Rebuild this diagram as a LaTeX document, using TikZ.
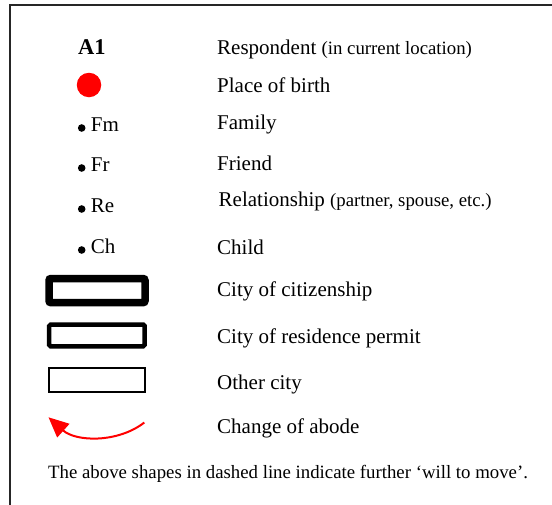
\documentclass[tikz,border=0pt]{standalone}
\usepackage{fontspec}
\setmainfont{Liberation Serif}
\usetikzlibrary{arrows.meta}
\newcommand\mainsz{\fontsize{21}{25}\selectfont}
\newcommand\smallsz{\fontsize{18.8}{22}\selectfont}
\begin{document}
\begin{tikzpicture}[x=1pt,y=-1pt,
  lbl/.style={anchor=base west, inner sep=0pt, font=\mainsz},
  dot/.style={circle, fill=black, inner sep=0pt, minimum size=7.6pt},
  citybox/.style={draw=black, rectangle, inner sep=0pt, minimum width=95.5pt},
  move/.style={draw=red, line width=2pt, -{Triangle[length=20pt 0 0,width=18pt 0 0]}}]
\useasboundingbox (0,0) rectangle (552,504);
% frame
\draw[line width=1.6pt, black!85] (10,620) -- (10,5) -- (620,5);
% respondent
\node[lbl, font=\fontsize{22.5}{26}\selectfont\bfseries] (a1) at (78,54) {A1};
\node[lbl] (t1) at (217,54) {Respondent {\smallsz(in current location)}};
% place of birth
\node[circle, fill=red, inner sep=0pt, minimum size=24.5pt] (pob) at (89,85) {};
\node[lbl] (t2) at (217,92) {Place of birth};
% people
\node[dot] (d1) at (81.7,128) {};
\node[lbl] (fm) at (90.7,131) {Fm};
\node[lbl] (t3) at (217,129) {Family};
\node[dot] (d2) at (81.7,168) {};
\node[lbl] (fr) at (90.7,171) {Fr};
\node[lbl] (t4) at (217,170.5) {Friend};
\node[dot] (d3) at (81.7,209) {};
\node[lbl] (re) at (90.7,212) {Re};
\node[lbl] (t5) at (218.5,206) {Relationship {\smallsz(partner, spouse, etc.)}};
\node[dot] (d4) at (81.7,250) {};
\node[lbl] (ch) at (90.7,253) {Ch};
\node[lbl] (t6) at (217,254) {Child};
% cities
\node[citybox, line width=7.5pt, rounded corners=2pt, minimum width=96pt, minimum height=24.2pt] (b1) at (97,290.6) {};
\node[lbl] (t7) at (217,296) {City of citizenship};
\node[citybox, line width=4.5pt, rounded corners=1.5pt, minimum height=21.7pt] (b2) at (96.9,335.4) {};
\node[lbl] (t8) at (217,343) {City of residence permit};
\node[citybox, line width=2pt, minimum height=23.4pt] (b3) at (97,380) {};
\node[lbl] (t9) at (217,389) {Other city};
% change of abode
\coordinate (as) at (144.3,422.5);
\coordinate (ae) at (48.5,417.3);
\draw[move] (as) .. controls (118,443) and (76,442) .. (ae);
\node[lbl] (t10) at (217,433) {Change of abode};
% footer
\node[anchor=base west, inner sep=0pt, font=\smallsz] (foot) at (48,478.5) {The above shapes in dashed line indicate further ‘will to move’.};
\end{tikzpicture}
\end{document}
